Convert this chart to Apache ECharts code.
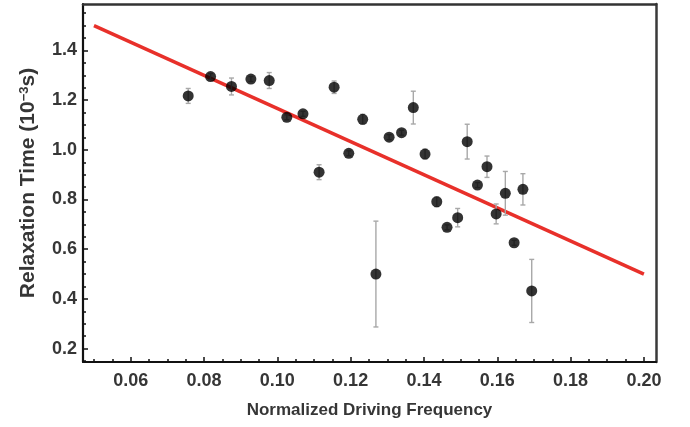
<!DOCTYPE html>
<html><head><meta charset="utf-8">
<script src="https://cdn.jsdelivr.net/npm/echarts@6/dist/echarts.min.js"></script>
<style>html,body{margin:0;padding:0;background:#fff}#c{width:690px;height:427px}</style>
</head><body><div id="c"></div>
<script>
// Data
const freq  = [0.0757,0.0818,0.0875,0.0928,0.0978,0.1026,0.1070,0.1114,0.1155,0.1195,0.1233,0.1269,0.1305,0.1339,0.1371,0.1403,0.1435,0.1463,0.1492,0.1518,0.1546,0.1572,0.1597,0.1622,0.1646,0.1670,0.1694];
const relax = [1.217,1.295,1.255,1.285,1.279,1.131,1.145,0.910,1.252,0.986,1.123,0.500,1.051,1.069,1.170,0.983,0.791,0.688,0.727,1.033,0.858,0.932,0.742,0.825,0.626,0.841,0.432];
const errs  = [0.030,0.012,0.034,0.010,0.032,0.010,0.010,0.030,0.025,0.010,0.020,0.213,0.010,0.010,0.066,0.020,0.020,0.010,0.037,0.070,0.010,0.043,0.040,0.088,0.010,0.063,0.127];
const fitX = [0.05, 0.20];
const fitY = [1.5, 0.5];
const xTickLabels = [0.06,0.08,0.10,0.12,0.14,0.16,0.18,0.20];
const yTickLabels = [0.2,0.4,0.6,0.8,1.0,1.2,1.4];
const xMinor = [0.05,0.055,0.065,0.07,0.075,0.085,0.09,0.095,0.105,0.11,0.115,0.125,0.13,0.135,0.145,0.15,0.155,0.165,0.17,0.175,0.185,0.19,0.195];
const yMinor = [0.15,0.25,0.3,0.35,0.45,0.5,0.55,0.65,0.7,0.75,0.85,0.9,0.95,1.05,1.1,1.15,1.25,1.3,1.35,1.45,1.5,1.55];

const X_MIN = 0.047, X_MAX = 0.2033, Y_MIN = 0.146, Y_MAX = 1.587;
const TXT = '#363636';
const FONT = 'Liberation Sans';

const points = freq.map((x, i) => [x, relax[i]]);
const bars = freq.map((x, i) => [x, relax[i] - errs[i], relax[i] + errs[i]]);

const chart = echarts.init(document.getElementById('c'), null, {renderer: 'canvas'});
const hidden = {show: false};
function xAx(extra) {
  return Object.assign({type: 'value', min: X_MIN, max: X_MAX, splitLine: hidden, axisLabel: hidden, axisTick: hidden, axisLine: hidden}, extra);
}
function yAx(extra) {
  return Object.assign({type: 'value', min: Y_MIN, max: Y_MAX, splitLine: hidden, axisLabel: hidden, axisTick: hidden, axisLine: hidden}, extra);
}
chart.setOption({
  animation: false,
  backgroundColor: '#fff',
  grid: {left: 83, right: 34, top: 4, bottom: 65, containLabel: false},
  xAxis: [
    xAx({position: 'bottom',
      name: 'Normalized Driving Frequency', nameLocation: 'middle', nameGap: 40,
      nameTextStyle: {color: TXT, fontFamily: FONT, fontWeight: 'bold', fontSize: 17},
      axisLine: {show: true, onZero: false, lineStyle: {color: '#111', width: 2.2}},
      axisTick: {show: true, inside: true, length: 5, customValues: xTickLabels, lineStyle: {color: '#111', width: 1.5}},
      axisLabel: {show: true, margin: 10, customValues: xTickLabels, color: TXT, fontFamily: FONT, fontWeight: 'bold', fontSize: 18,
        formatter: v => v.toFixed(2)}
    }),
    xAx({position: 'bottom',
      axisTick: {show: true, inside: true, length: 3, customValues: xMinor, lineStyle: {color: '#111', width: 1.5}}
    }),
    xAx({position: 'top',
      axisLine: {show: true, onZero: false, lineStyle: {color: '#333', width: 2.5}}
    })
  ],
  yAxis: [
    yAx({position: 'left',
      name: 'Relaxation Time (10{sup|−3}s)', nameLocation: 'middle', nameGap: 44,
      nameTextStyle: {color: TXT, fontFamily: FONT, fontWeight: 'bold', fontSize: 21,
        rich: {sup: {fontFamily: FONT, fontWeight: 'bold', fontSize: 13, verticalAlign: 'top', color: TXT, padding: [0,0,8,0]}}},
      axisLine: {show: true, onZero: false, lineStyle: {color: '#111', width: 2.2}},
      axisTick: {show: true, inside: true, length: 5, customValues: yTickLabels, lineStyle: {color: '#111', width: 1.5}},
      axisLabel: {show: true, margin: 6, customValues: yTickLabels, color: TXT, fontFamily: FONT, fontWeight: 'bold', fontSize: 18,
        formatter: v => v.toFixed(1)}
    }),
    yAx({position: 'left',
      axisTick: {show: true, inside: true, length: 3, customValues: yMinor, lineStyle: {color: '#111', width: 1.5}}
    }),
    yAx({position: 'right',
      axisLine: {show: true, onZero: false, lineStyle: {color: '#3a3a3a', width: 2.5}}
    })
  ],
  series: [
    {
      type: 'line', xAxisIndex: 0, yAxisIndex: 0, z: 2,
      data: fitX.map((x, i) => [x, fitY[i]]),
      symbol: 'none', lineStyle: {color: '#e8302a', width: 3.5}
    },
    {
      type: 'custom', xAxisIndex: 0, yAxisIndex: 0, z: 3,
      data: bars,
      renderItem: function (params, api) {
        const x = api.value(0);
        const lo = api.coord([x, api.value(1)]);
        const hi = api.coord([x, api.value(2)]);
        const cw = 2.5;
        const st = {stroke: '#a8a8a8', lineWidth: 1.4};
        return {type: 'group', children: [
          {type: 'line', shape: {x1: lo[0], y1: lo[1], x2: hi[0], y2: hi[1]}, style: st},
          {type: 'line', shape: {x1: lo[0]-cw, y1: lo[1], x2: lo[0]+cw, y2: lo[1]}, style: st},
          {type: 'line', shape: {x1: hi[0]-cw, y1: hi[1], x2: hi[0]+cw, y2: hi[1]}, style: st}
        ]};
      }
    },
    {
      type: 'scatter', xAxisIndex: 0, yAxisIndex: 0, z: 4,
      data: points, symbol: 'circle', symbolSize: 11,
      itemStyle: {color: '#000'}
    }
  ]
});
</script>
</body></html>
